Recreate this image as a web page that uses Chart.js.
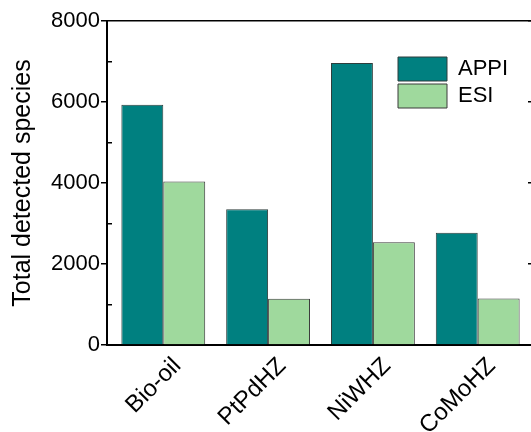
<!DOCTYPE html>
<html>
<head>
<meta charset="utf-8">
<script src="https://cdn.jsdelivr.net/npm/chart.js@4.4.1/dist/chart.umd.min.js"></script>
<style>
  html, body { margin: 0; padding: 0; background: #fff; overflow: hidden; }
  #wrap { width: 540px; height: 432px; }
</style>
</head>
<body>
<div id="wrap"><canvas id="chart" width="540" height="432"></canvas></div>
<script>
// Sample categories and detected species counts per ionisation mode
const categories = ['Bio-oil', 'PtPdHZ', 'NiWHZ', 'CoMoHZ'];
const appiCounts = [5930, 3350, 6960, 2770];
const esiCounts = [4040, 1140, 2540, 1150];
const seriesNames = ['APPI', 'ESI'];
const yTitle = 'Total detected species';

const FONT = 'Liberation Sans, Arial, Helvetica, sans-serif';

const toPoints = arr => arr.map((v, i) => ({ x: i, y: v }));

// Places the vertical legend in the upper right of the plot area
const legendPlacer = {
  id: 'legendPlacer',
  afterLayout(chart) {
    const lg = chart.legend;
    if (!lg) return;
    const pad = lg.options.labels.padding;
    const w = lg.width, h = lg.height;
    lg.left = 398 - pad;
    lg.top = 57 - pad;
    lg.right = lg.left + w;
    lg.bottom = lg.top + h;
  }
};

new Chart(document.getElementById('chart'), {
  type: 'bar',
  data: {
    datasets: [
      {
        label: seriesNames[0],
        data: toPoints(appiCounts),
        backgroundColor: '#008080',
        borderColor: '#2e3d3c',
        borderWidth: 1
      },
      {
        label: seriesNames[1],
        data: toPoints(esiCounts),
        backgroundColor: '#9fd99d',
        borderColor: '#3a3a3a',
        borderWidth: 1
      }
    ]
  },
  options: {
    responsive: false,
    animation: false,
    events: [],
    categoryPercentage: 0.8,
    barPercentage: 1.0,
    layout: { padding: { top: 21, right: 6, bottom: 0, left: 0 } },
    plugins: {
      tooltip: { enabled: false },
      legend: {
        position: 'chartArea',
        align: 'start',
        labels: {
          boxWidth: 49,
          boxHeight: 24,
          padding: 3,
          color: '#000',
          font: { family: FONT, size: 22 }
        }
      }
    },
    scales: {
      x: {
        type: 'linear',
        position: 'bottom',
        min: -0.537,
        max: 3.537,
        offset: false,
        grid: { display: false, drawTicks: false },
        border: { display: true, color: '#000', width: 2 },
        ticks: {
          stepSize: 1,
          includeBounds: false,
          autoSkip: false,
          minRotation: 45,
          maxRotation: 45,
          padding: 7,
          labelOffset: 14,
          color: '#000',
          font: { family: FONT, size: 24 },
          callback: v => (Number.isInteger(v) && categories[v] !== undefined) ? categories[v] : ''
        },
        afterFit: s => { s.height = 87; }
      },
      x2: {
        type: 'linear',
        position: 'top',
        min: 0,
        max: 1,
        grid: { display: false },
        ticks: { display: false },
        border: { display: true, color: '#000', width: 1.5 },
        afterFit: s => { s.height = 0; }
      },
      y: {
        type: 'linear',
        position: 'left',
        weight: 0,
        min: 0,
        max: 8000,
        grid: {
          display: true,
          drawOnChartArea: false,
          drawTicks: true,
          tickLength: 6,
          color: '#000',
          lineWidth: 1.5
        },
        border: { display: true, color: '#000', width: 2 },
        ticks: {
          stepSize: 2000,
          padding: 1,
          color: '#000',
          font: { family: FONT, size: 22 },
          callback: v => String(v)
        },
        title: {
          display: true,
          text: yTitle,
          color: '#000',
          font: { family: FONT, size: 25 },
          padding: { top: 8, bottom: 0 }
        },
        afterFit: s => { s.width = 107; }
      },
      yMinor: {
        type: 'linear',
        position: 'left',
        weight: -1,
        min: 0,
        max: 8000,
        grid: {
          display: true,
          drawOnChartArea: false,
          drawTicks: true,
          tickLength: -5,
          lineWidth: 1.5,
          color: ctx => (ctx.tick && ctx.tick.value % 2000 === 0) ? 'rgba(0,0,0,0)' : '#000'
        },
        border: { display: false },
        ticks: { display: false, stepSize: 1000 },
        afterFit: s => { s.width = 0; }
      },
      y2: {
        type: 'linear',
        position: 'right',
        min: 0,
        max: 8000,
        grid: {
          display: true,
          drawOnChartArea: false,
          drawTicks: true,
          tickLength: -6,
          lineWidth: 1.5,
          color: '#000'
        },
        border: { display: true, color: '#000', width: 2 },
        ticks: { display: false, stepSize: 2000 },
        afterFit: s => { s.width = 0; }
      }
    }
  },
  plugins: [legendPlacer]
});
</script>
</body>
</html>
